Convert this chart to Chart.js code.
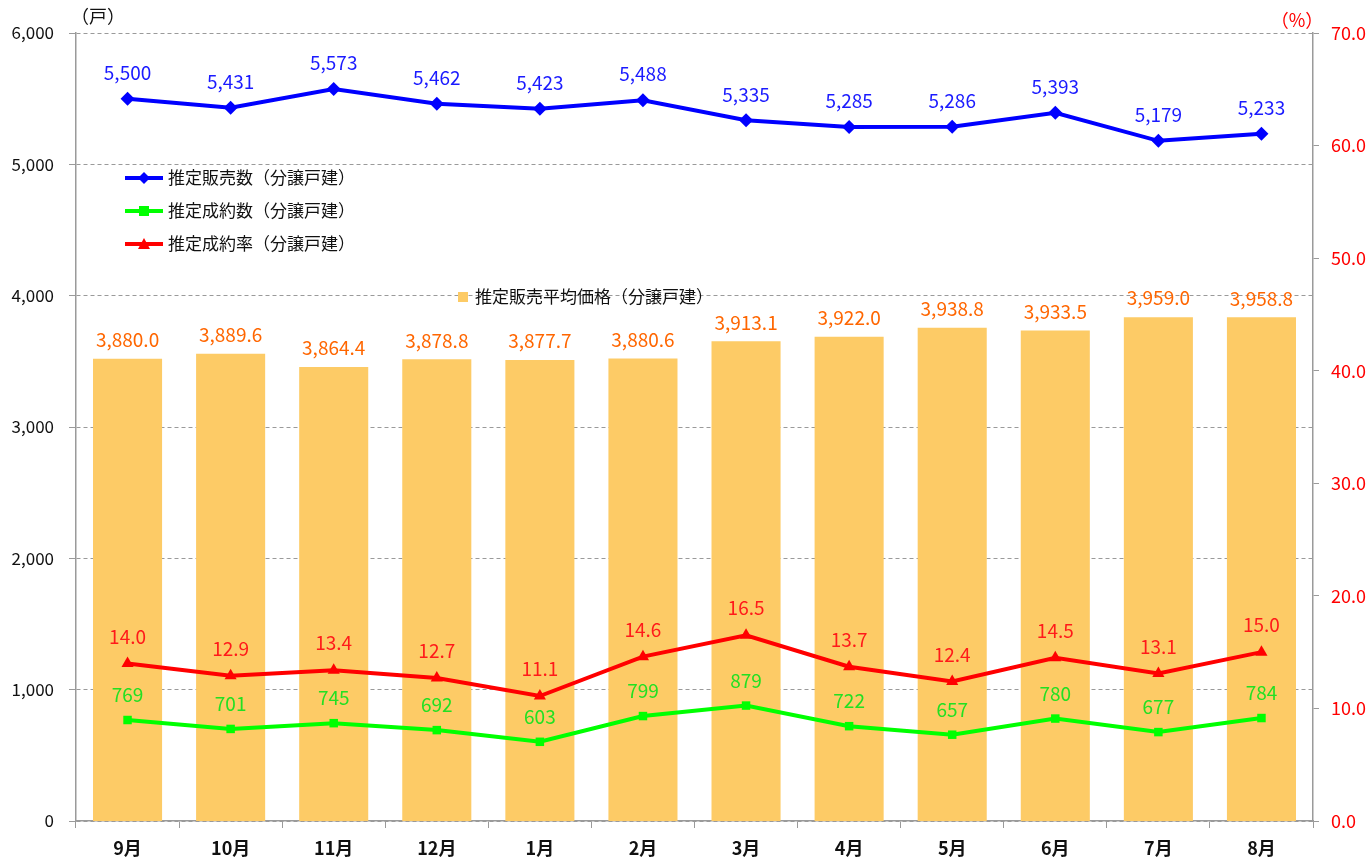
<!DOCTYPE html>
<html>
<head>
<meta charset="utf-8">
<script src="https://cdn.jsdelivr.net/npm/chart.js@4"></script>
<style>
  html, body { margin: 0; padding: 0; background: #fff; }
  #wrap { width: 1367px; height: 858px; }
</style>
</head>
<body>
<div id="wrap"><canvas id="chart" width="1367" height="858"></canvas></div>
<script>
const MONTHS = ["9月", "10月", "11月", "12月", "1月", "2月", "3月", "4月", "5月", "6月", "7月", "8月"];
const SALES = [5500, 5431, 5573, 5462, 5423, 5488, 5335, 5285, 5286, 5393, 5179, 5233];
const CONTRACTS = [769, 701, 745, 692, 603, 799, 879, 722, 657, 780, 677, 784];
const RATE = [14.0, 12.9, 13.4, 12.7, 11.1, 14.6, 16.5, 13.7, 12.4, 14.5, 13.1, 15.0];
const PRICE = [3880.0, 3889.6, 3864.4, 3878.8, 3877.7, 3880.6, 3913.1, 3922.0, 3938.8, 3933.5, 3959.0, 3958.8];
const LEFT_TICKS = [0, 1000, 2000, 3000, 4000, 5000, 6000];
const RIGHT_TICKS = [0, 10, 20, 30, 40, 50, 60, 70];

const FONT = "'Noto Sans CJK JP', 'Noto Sans', sans-serif";
const GRID = "#9a9a9a";

/* ===== value labels + custom legend + unit titles ===== */
const labelPlugin = {
  id: "valueLabels",
  afterDatasetsDraw(chart) {
    const ctx = chart.ctx;
    ctx.save();
    ctx.font = `19px ${FONT}`;
    ctx.textAlign = "center";
    ctx.textBaseline = "middle";
    chart.data.datasets.forEach((ds, i) => {
      const meta = chart.getDatasetMeta(i);
      meta.data.forEach((el, j) => {
        const v = ds.data[j];
        const txt = v.toLocaleString("en-US", { minimumFractionDigits: ds.decimals, maximumFractionDigits: ds.decimals });
        ctx.fillStyle = ds.labelColor;
        ctx.fillText(txt, el.x, el.y - ds.labelOffset);
      });
    });

    // legend (line series)
    ctx.font = `17px ${FONT}`;
    const items = chart.data.datasets.filter((d) => d.type === "line");
    items.forEach((ds, k) => {
      const y = 178 + k * 33;
      ctx.strokeStyle = ds.borderColor;
      ctx.lineWidth = 4;
      ctx.beginPath();
      ctx.moveTo(125, y);
      ctx.lineTo(163, y);
      ctx.stroke();
      ctx.fillStyle = ds.borderColor;
      ctx.beginPath();
      if (ds.pointStyle === "rectRot") {
        ctx.moveTo(144, y - 6); ctx.lineTo(150, y); ctx.lineTo(144, y + 6); ctx.lineTo(138, y);
      } else if (ds.pointStyle === "rect") {
        ctx.rect(139, y - 5, 10, 10);
      } else {
        ctx.moveTo(144, y - 6); ctx.lineTo(150, y + 5); ctx.lineTo(138, y + 5);
      }
      ctx.closePath();
      ctx.fill();
      ctx.fillStyle = "#111";
      ctx.textAlign = "left";
      ctx.fillText(ds.label, 168, y);
    });
    // legend (bar)
    const bar = chart.data.datasets.find((d) => d.type === "bar");
    ctx.fillStyle = bar.backgroundColor;
    ctx.fillRect(458, 292, 10, 10);
    ctx.fillStyle = "#111";
    ctx.textAlign = "left";
    ctx.fillText(bar.label, 475, 297);

    // unit titles
    ctx.font = `18px ${FONT}`;
    ctx.textAlign = "center";
    ctx.fillStyle = "#111";
    ctx.fillText("（戸）", 98, 16);
    ctx.fillStyle = "#ff0000";
    ctx.fillText("（%）", 1297, 20);
    ctx.restore();
  },
};

new Chart(document.getElementById("chart"), {
  data: {
    labels: MONTHS,
    datasets: [
      {
        type: "line",
        label: "推定販売数（分譲戸建）",
        data: SALES,
        yAxisID: "y",
        borderColor: "#0000ff",
        backgroundColor: "#0000ff",
        borderWidth: 4,
        pointStyle: "rectRot",
        pointRadius: 7,
        pointBorderWidth: 0,
        labelColor: "#1a1aff",
        labelOffset: 26,
        decimals: 0,
        order: 1,
      },
      {
        type: "line",
        label: "推定成約数（分譲戸建）",
        data: CONTRACTS,
        yAxisID: "y",
        borderColor: "#00ff00",
        backgroundColor: "#00ff00",
        borderWidth: 4,
        pointStyle: "rect",
        pointRadius: 6,
        pointBorderWidth: 0,
        labelColor: "#22e022",
        labelOffset: 25,
        decimals: 0,
        order: 2,
      },
      {
        type: "line",
        label: "推定成約率（分譲戸建）",
        data: RATE,
        yAxisID: "y1",
        borderColor: "#ff0000",
        backgroundColor: "#ff0000",
        borderWidth: 4,
        pointStyle: "triangle",
        pointRadius: 7,
        pointBorderWidth: 0,
        labelColor: "#ff1a1a",
        labelOffset: 27,
        decimals: 1,
        order: 3,
      },
      {
        type: "bar",
        label: "推定販売平均価格（分譲戸建）",
        data: PRICE,
        yAxisID: "y2",
        backgroundColor: "#fdcb66",
        categoryPercentage: 0.67,
        barPercentage: 1.0,
        labelColor: "#ff6600",
        labelOffset: 19,
        decimals: 1,
        order: 4,
      },
    ],
  },
  options: {
    responsive: false,
    animation: false,
    layout: { padding: { top: 33, right: 0, left: 0, bottom: 0 } },
    plugins: { legend: { display: false }, tooltip: { enabled: false } },
    scales: {
      x: {
        offset: true,
        grid: { display: true, drawOnChartArea: false, offset: true, color: GRID, tickLength: 7 },
        border: { color: GRID, width: 1.5 },
        ticks: { color: "#111", font: { family: FONT, size: 18, weight: "bold" }, padding: 9 },
        afterFit: (s) => { s.height = 37; },
      },
      y: {
        position: "left",
        min: 0,
        max: 6000,
        afterBuildTicks: (s) => { s.ticks = LEFT_TICKS.map((v) => ({ value: v })); },
        ticks: {
          color: "#111",
          font: { family: FONT, size: 17 },
          padding: 15,
          callback: (v) => v.toLocaleString("en-US"),
        },
        grid: { color: GRID, tickLength: 7, tickBorderDash: [] },
        border: { color: GRID, width: 1.5, dash: [4, 3] },
        afterFit: (s) => { s.width = 76; },
      },
      y1: {
        position: "right",
        min: 0,
        max: 70,
        afterBuildTicks: (s) => { s.ticks = RIGHT_TICKS.map((v) => ({ value: v })); },
        ticks: {
          color: "#ff0000",
          font: { family: FONT, size: 18 },
          padding: 12,
          callback: (v) => v.toFixed(1),
        },
        grid: { drawOnChartArea: false, color: GRID, tickLength: 6 },
        border: { color: GRID, width: 1.5 },
        afterFit: (s) => { s.width = 54; },
      },
      y2: {
        display: false,
        min: 3000,
        max: 4500,
      },
    },
  },
  plugins: [labelPlugin],
});
</script>
</body>
</html>
